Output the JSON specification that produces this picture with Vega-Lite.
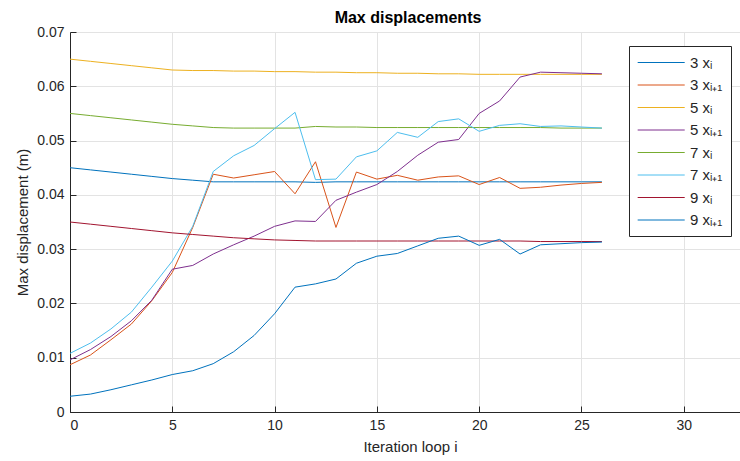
{
  "$schema": "https://vega.github.io/schema/vega-lite/v6.json",
  "autosize": {"type": "none"},
  "padding": {"left": 70, "top": 32, "right": 0, "bottom": 49},
  "width": 670,
  "height": 380,
  "background": "white",
  "title": {"text": "Max displacements", "font": "Liberation Sans", "fontSize": 16, "fontWeight": "bold", "color": "#000000", "dx": 3, "offset": -1},
  "data": {"values": [
    {"i":0,"3 xᵢ":0.0450,"3 xᵢ₊₁":0.0087,"5 xᵢ":0.0650,"5 xᵢ₊₁":0.0096,"7 xᵢ":0.0550,"7 xᵢ₊₁":0.0108,"9 xᵢ":0.0350,"9 xᵢ₊₁":0.0029},
    {"i":1,"3 xᵢ":0.0446,"3 xᵢ₊₁":0.0105,"5 xᵢ":0.0646,"5 xᵢ₊₁":0.0115,"7 xᵢ":0.0546,"7 xᵢ₊₁":0.0127,"9 xᵢ":0.0346,"9 xᵢ₊₁":0.0033},
    {"i":2,"3 xᵢ":0.0442,"3 xᵢ₊₁":0.0133,"5 xᵢ":0.0642,"5 xᵢ₊₁":0.0139,"7 xᵢ":0.0542,"7 xᵢ₊₁":0.0153,"9 xᵢ":0.0342,"9 xᵢ₊₁":0.0041},
    {"i":3,"3 xᵢ":0.0438,"3 xᵢ₊₁":0.0162,"5 xᵢ":0.0638,"5 xᵢ₊₁":0.0168,"7 xᵢ":0.0538,"7 xᵢ₊₁":0.0184,"9 xᵢ":0.0338,"9 xᵢ₊₁":0.0050},
    {"i":4,"3 xᵢ":0.0434,"3 xᵢ₊₁":0.0205,"5 xᵢ":0.0634,"5 xᵢ₊₁":0.0206,"7 xᵢ":0.0534,"7 xᵢ₊₁":0.0230,"9 xᵢ":0.0334,"9 xᵢ₊₁":0.0059},
    {"i":5,"3 xᵢ":0.0430,"3 xᵢ₊₁":0.0257,"5 xᵢ":0.0630,"5 xᵢ₊₁":0.0263,"7 xᵢ":0.0530,"7 xᵢ₊₁":0.0278,"9 xᵢ":0.0330,"9 xᵢ₊₁":0.0069},
    {"i":6,"3 xᵢ":0.0427,"3 xᵢ₊₁":0.0340,"5 xᵢ":0.0629,"5 xᵢ₊₁":0.0270,"7 xᵢ":0.0527,"7 xᵢ₊₁":0.0342,"9 xᵢ":0.0327,"9 xᵢ₊₁":0.0076},
    {"i":7,"3 xᵢ":0.0424,"3 xᵢ₊₁":0.0438,"5 xᵢ":0.0629,"5 xᵢ₊₁":0.0291,"7 xᵢ":0.0524,"7 xᵢ₊₁":0.0443,"9 xᵢ":0.0324,"9 xᵢ₊₁":0.0089},
    {"i":8,"3 xᵢ":0.0424,"3 xᵢ₊₁":0.0431,"5 xᵢ":0.0628,"5 xᵢ₊₁":0.0308,"7 xᵢ":0.0523,"7 xᵢ₊₁":0.0472,"9 xᵢ":0.0321,"9 xᵢ₊₁":0.0111},
    {"i":9,"3 xᵢ":0.0424,"3 xᵢ₊₁":0.0437,"5 xᵢ":0.0628,"5 xᵢ₊₁":0.0324,"7 xᵢ":0.0523,"7 xᵢ₊₁":0.0491,"9 xᵢ":0.0319,"9 xᵢ₊₁":0.0141},
    {"i":10,"3 xᵢ":0.0424,"3 xᵢ₊₁":0.0443,"5 xᵢ":0.0627,"5 xᵢ₊₁":0.0342,"7 xᵢ":0.0523,"7 xᵢ₊₁":0.0522,"9 xᵢ":0.0317,"9 xᵢ₊₁":0.0181},
    {"i":11,"3 xᵢ":0.0424,"3 xᵢ₊₁":0.0402,"5 xᵢ":0.0627,"5 xᵢ₊₁":0.0352,"7 xᵢ":0.0523,"7 xᵢ₊₁":0.0552,"9 xᵢ":0.0316,"9 xᵢ₊₁":0.0230},
    {"i":12,"3 xᵢ":0.0423,"3 xᵢ₊₁":0.0461,"5 xᵢ":0.0626,"5 xᵢ₊₁":0.0351,"7 xᵢ":0.0526,"7 xᵢ₊₁":0.0428,"9 xᵢ":0.0315,"9 xᵢ₊₁":0.0236},
    {"i":13,"3 xᵢ":0.0424,"3 xᵢ₊₁":0.0340,"5 xᵢ":0.0626,"5 xᵢ₊₁":0.0390,"7 xᵢ":0.0525,"7 xᵢ₊₁":0.0429,"9 xᵢ":0.0315,"9 xᵢ₊₁":0.0245},
    {"i":14,"3 xᵢ":0.0424,"3 xᵢ₊₁":0.0442,"5 xᵢ":0.0625,"5 xᵢ₊₁":0.0405,"7 xᵢ":0.0525,"7 xᵢ₊₁":0.0470,"9 xᵢ":0.0315,"9 xᵢ₊₁":0.0274},
    {"i":15,"3 xᵢ":0.0424,"3 xᵢ₊₁":0.0429,"5 xᵢ":0.0625,"5 xᵢ₊₁":0.0419,"7 xᵢ":0.0524,"7 xᵢ₊₁":0.0481,"9 xᵢ":0.0315,"9 xᵢ₊₁":0.0287},
    {"i":16,"3 xᵢ":0.0424,"3 xᵢ₊₁":0.0436,"5 xᵢ":0.0624,"5 xᵢ₊₁":0.0443,"7 xᵢ":0.0524,"7 xᵢ₊₁":0.0515,"9 xᵢ":0.0315,"9 xᵢ₊₁":0.0292},
    {"i":17,"3 xᵢ":0.0424,"3 xᵢ₊₁":0.0427,"5 xᵢ":0.0624,"5 xᵢ₊₁":0.0473,"7 xᵢ":0.0524,"7 xᵢ₊₁":0.0506,"9 xᵢ":0.0315,"9 xᵢ₊₁":0.0306},
    {"i":18,"3 xᵢ":0.0424,"3 xᵢ₊₁":0.0433,"5 xᵢ":0.0623,"5 xᵢ₊₁":0.0497,"7 xᵢ":0.0524,"7 xᵢ₊₁":0.0535,"9 xᵢ":0.0315,"9 xᵢ₊₁":0.0320},
    {"i":19,"3 xᵢ":0.0424,"3 xᵢ₊₁":0.0435,"5 xᵢ":0.0623,"5 xᵢ₊₁":0.0502,"7 xᵢ":0.0524,"7 xᵢ₊₁":0.0540,"9 xᵢ":0.0315,"9 xᵢ₊₁":0.0324},
    {"i":20,"3 xᵢ":0.0424,"3 xᵢ₊₁":0.0419,"5 xᵢ":0.0622,"5 xᵢ₊₁":0.0550,"7 xᵢ":0.0524,"7 xᵢ₊₁":0.0517,"9 xᵢ":0.0315,"9 xᵢ₊₁":0.0307},
    {"i":21,"3 xᵢ":0.0424,"3 xᵢ₊₁":0.0432,"5 xᵢ":0.0622,"5 xᵢ₊₁":0.0573,"7 xᵢ":0.0524,"7 xᵢ₊₁":0.0528,"9 xᵢ":0.0315,"9 xᵢ₊₁":0.0318},
    {"i":22,"3 xᵢ":0.0424,"3 xᵢ₊₁":0.0412,"5 xᵢ":0.0622,"5 xᵢ₊₁":0.0617,"7 xᵢ":0.0524,"7 xᵢ₊₁":0.0531,"9 xᵢ":0.0315,"9 xᵢ₊₁":0.0291},
    {"i":23,"3 xᵢ":0.0424,"3 xᵢ₊₁":0.0414,"5 xᵢ":0.0622,"5 xᵢ₊₁":0.0626,"7 xᵢ":0.0524,"7 xᵢ₊₁":0.0526,"9 xᵢ":0.0314,"9 xᵢ₊₁":0.0308},
    {"i":24,"3 xᵢ":0.0424,"3 xᵢ₊₁":0.0418,"5 xᵢ":0.0622,"5 xᵢ₊₁":0.0625,"7 xᵢ":0.0523,"7 xᵢ₊₁":0.0527,"9 xᵢ":0.0314,"9 xᵢ₊₁":0.0310},
    {"i":25,"3 xᵢ":0.0424,"3 xᵢ₊₁":0.0421,"5 xᵢ":0.0622,"5 xᵢ₊₁":0.0624,"7 xᵢ":0.0523,"7 xᵢ₊₁":0.0525,"9 xᵢ":0.0314,"9 xᵢ₊₁":0.0312},
    {"i":26,"3 xᵢ":0.0424,"3 xᵢ₊₁":0.0423,"5 xᵢ":0.0622,"5 xᵢ₊₁":0.0623,"7 xᵢ":0.0523,"7 xᵢ₊₁":0.0523,"9 xᵢ":0.0314,"9 xᵢ₊₁":0.0313}
  ]},
  "transform": [
    {"fold": ["3 xᵢ","3 xᵢ₊₁","5 xᵢ","5 xᵢ₊₁","7 xᵢ","7 xᵢ₊₁","9 xᵢ","9 xᵢ₊₁"], "as": ["series", "value"]}
  ],
  "mark": {"type": "line", "strokeWidth": 1},
  "encoding": {
    "x": {"field": "i", "type": "quantitative",
      "scale": {"domain": [0, 32.75], "nice": false, "zero": false},
      "axis": {"values": [0,5,10,15,20,25,30], "title": "Iteration loop i", "titleX": 340, "titlePadding": 7, "labelPadding": 12, "format": "d"}},
    "y": {"field": "value", "type": "quantitative",
      "scale": {"domain": [0, 0.07], "nice": false},
      "axis": {"values": [0,0.01,0.02,0.03,0.04,0.05,0.06,0.07], "format": ".2~f", "title": "Max displacement (m)", "labelPadding": 12, "titlePadding": 6}},
    "color": {"field": "series", "type": "nominal",
      "scale": {"domain": ["3 xᵢ","3 xᵢ₊₁","5 xᵢ","5 xᵢ₊₁","7 xᵢ","7 xᵢ₊₁","9 xᵢ","9 xᵢ₊₁"],
                "range": ["#0072BD","#D95319","#EDB120","#7E2F8E","#77AC30","#4DBEEE","#A2142F","#0072BD"]},
      "legend": {"orient": "none", "legendX": 559, "legendY": 14, "title": null,
        "symbolType": "M-1,0H5", "symbolSize": 246, "symbolStrokeWidth": 1, "symbolOpacity": 1,
        "labelOffset": 36, "padding": 8, "rowPadding": 5.5,
        "labelExpr": "datum.label + '\u2002'",
        "strokeColor": "#262626", "fillColor": "white",
        "labelFont": "Liberation Sans", "labelFontSize": 15, "labelColor": "#262626"}}
  },
  "config": {
    "view": {"stroke": null},
    "axis": {
      "domainColor": "#262626", "tickColor": "#262626", "tickSize": -6, "tickWidth": 1,
      "gridColor": "#e3e3e3", "gridWidth": 1, "grid": true,
      "labelFont": "Liberation Sans", "labelFontSize": 14, "labelColor": "#262626",
      "titleFont": "Liberation Sans", "titleFontSize": 15, "titleFontWeight": "normal", "titleColor": "#262626"
    }
  }
}
